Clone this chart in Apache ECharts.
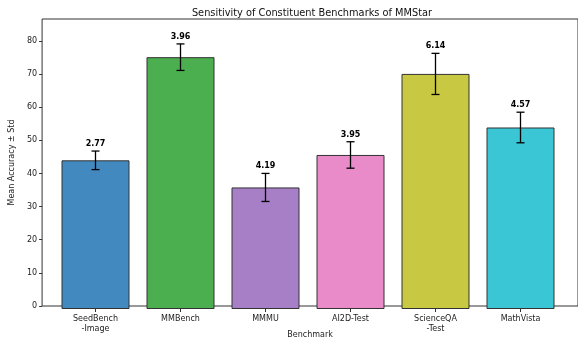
<!DOCTYPE html>
<html><head><meta charset="utf-8">
<script src="https://cdn.jsdelivr.net/npm/echarts@6/dist/echarts.min.js"></script>
<style>html,body{margin:0;padding:0;background:#fff}#c{width:578px;height:344px}</style>
</head><body><div id="c"></div>
<script>
const categories = ['SeedBench\n-Image', 'MMBench', 'MMMU', 'AI2D-Test', 'ScienceQA\n-Test', 'MathVista'];
const means = [44.4, 75.2, 36.3, 46.0, 70.2, 54.2];
const stds = [2.77, 3.96, 4.19, 3.95, 6.14, 4.57];
const colors = ['#4289bf', '#4caf4f', '#a67fc6', '#e88bc8', '#c8c843', '#3bc6d6'];
const yTicks = [0, 10, 20, 30, 40, 50, 60, 70, 80];

const chart = echarts.init(document.getElementById('c'));
const font = 'DejaVu Sans';
const yMax = 86.6;
chart.setOption({
  animation: false,
  textStyle: { fontFamily: font },
  title: { text: 'Sensitivity of Constituent Benchmarks of MMStar', left: 307, textAlign: 'center', top: 3,
    textStyle: { fontSize: 9.8, fontWeight: 'normal', color: '#111', fontFamily: font } },
  grid: [
    { left: 37, top: 19, width: 541, bottom: 35, show: true, borderColor: '#333', borderWidth: 1, backgroundColor: 'transparent' },
    { left: 53, top: 19, width: 510, bottom: 35 }
  ],
  xAxis: [
    { gridIndex: 0, type: 'value', min: 0, max: 1, show: true, axisLine: { show: false }, axisTick: { show: false }, axisLabel: { show: false }, splitLine: { show: false },
      name: 'Benchmark', nameLocation: 'middle', nameGap: 25, nameTextStyle: { fontSize: 8, color: '#222', fontFamily: font } },
    { gridIndex: 1, type: 'category', data: categories, axisLine: { show: false },
      axisTick: { show: true, alignWithLabel: true, length: 3, lineStyle: { color: '#333' } },
      axisLabel: { fontSize: 8, color: '#222', margin: 5, lineHeight: 10, fontFamily: font } }
  ],
  yAxis: [
    { gridIndex: 0, type: 'value', min: 0, max: yMax, interval: 10,
      axisLine: { show: false }, axisTick: { show: true, length: 3, lineStyle: { color: '#333' }, customValues: yTicks },
      axisLabel: { fontSize: 8, color: '#222', margin: 5, fontFamily: font, customValues: yTicks },
      splitLine: { show: false },
      name: 'Mean Accuracy ± Std', nameLocation: 'middle', nameGap: 20,
      nameTextStyle: { fontSize: 8, color: '#222', fontFamily: font } },
    { gridIndex: 1, type: 'value', min: 0, max: yMax, show: false, splitLine: { show: false } }
  ],
  series: [
    { type: 'bar', xAxisIndex: 1, yAxisIndex: 1, barWidth: '80%',
      data: means.map((v, i) => ({ value: v, itemStyle: { color: colors[i], borderColor: '#333', borderWidth: 1 } })) },
    { type: 'custom', xAxisIndex: 1, yAxisIndex: 1, z: 5,
      data: means.map((v, i) => [i, v, stds[i]]),
      renderItem: function (params, api) {
        const x = api.value(0), m = api.value(1), s = api.value(2);
        const top = api.coord([x, m + s]);
        const bot = api.coord([x, m - s]);
        const cx = top[0];
        const capW = 4;
        return { type: 'group', children: [
          { type: 'line', shape: { x1: cx, y1: top[1], x2: cx, y2: bot[1] }, style: { stroke: '#000', lineWidth: 1.3 } },
          { type: 'line', shape: { x1: cx - capW, y1: top[1], x2: cx + capW, y2: top[1] }, style: { stroke: '#000', lineWidth: 1.3 } },
          { type: 'line', shape: { x1: cx - capW, y1: bot[1], x2: cx + capW, y2: bot[1] }, style: { stroke: '#000', lineWidth: 1.3 } },
          { type: 'text', style: { text: s.toFixed(2), x: cx, y: top[1] - 3, align: 'center', verticalAlign: 'bottom',
              font: 'bold 8px "DejaVu Sans"', fill: '#000' } }
        ] };
      } }
  ]
});
</script></body></html>
